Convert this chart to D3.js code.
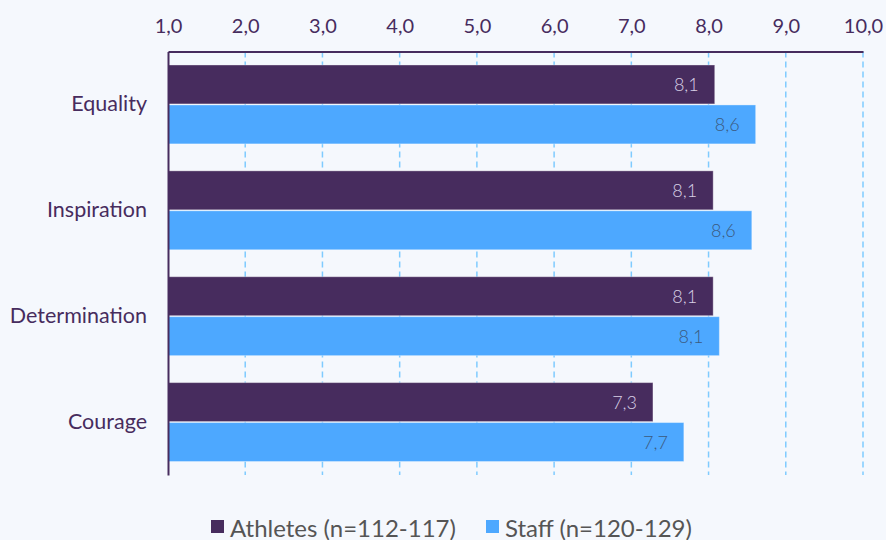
<!DOCTYPE html>
<html><head><meta charset="utf-8">
<script src="https://cdn.jsdelivr.net/npm/d3@7"></script>
<style>
html,body{margin:0;padding:0;background:#f5f8fd;}
svg{display:block;font-family:Lato,"Open Sans",sans-serif;}
</style></head>
<body><svg id="chart" width="886" height="540"></svg>
<script>
const categories = ["Equality","Inspiration","Determination","Courage"];
const seriesNames = ["Athletes (n=112-117)","Staff (n=120-129)"];
const athletes = [8.08, 8.06, 8.06, 7.28];
const staff = [8.61, 8.56, 8.14, 7.68];
const tickValues = [1,2,3,4,5,6,7,8,9,10];
const valueLabels = {athletes:["8,1","8,1","8,1","7,3"], staff:["8,6","8,6","8,1","7,7"]};

const colors = ["#472c5e","#4da8ff"];
const labelColors = ["#d8d0e6","#3b5a80"];
const svg = d3.select("#chart");
const m = {left:168, right:23, top:51.5, bottom:65};
const W = 886, H = 540;

const x = d3.scaleLinear().domain([1,10]).range([m.left, W - m.right]);
const y = d3.scaleBand().domain(categories).range([m.top, H - m.bottom]).padding(0);
const ys = d3.scaleBand().domain([0,1]).range([0, y.step()]).paddingInner(0.025).paddingOuter(0.3375);

const data = categories.map((c,i)=>({cat:c, vals:[athletes[i], staff[i]], labs:[valueLabels.athletes[i], valueLabels.staff[i]]}));

// gridlines
svg.append("g").selectAll("line").data(tickValues.slice(1)).join("line")
  .attr("x1", d=>x(d)).attr("x2", d=>x(d))
  .attr("y1", m.top).attr("y2", H - m.bottom)
  .attr("stroke", "#7fcbff").attr("stroke-width", 1.5).attr("stroke-dasharray","6,4");

// bars
const g = svg.append("g");
data.forEach(d=>{
  d.vals.forEach((v,j)=>{
    g.append("rect")
      .attr("x", x(1)).attr("y", y(d.cat)+ys(j))
      .attr("width", x(v)-x(1)).attr("height", ys.bandwidth())
      .attr("fill", colors[j])
      .attr("stroke", "#ffffff").attr("stroke-opacity", 0.35).attr("stroke-width", 1);
    g.append("text")
      .attr("x", x(v)-16).attr("y", y(d.cat)+ys(j)+ys.bandwidth()/2)
      .attr("text-anchor","end").attr("dominant-baseline","central")
      .attr("font-size", 18).attr("font-weight", 300)
      .attr("fill", labelColors[j]).text(d.labs[j]);
  });
});

// top axis
const xAxis = d3.axisTop(x).tickValues(tickValues).tickSize(0).tickPadding(19)
  .tickFormat(d=>d3.format(".1f")(d).replace(".",","));
const ax = svg.append("g").attr("transform",`translate(0,${m.top})`).call(xAxis);
ax.select(".domain").attr("stroke","#472c5e").attr("stroke-width",2);
ax.selectAll("text").attr("font-size",20).attr("fill","#472c5e").attr("font-family","Lato");

// left axis
const yAxis = d3.axisLeft(y).tickSize(0).tickPadding(21);
const ay = svg.append("g").attr("transform",`translate(${m.left},0)`).call(yAxis);
ay.select(".domain").attr("stroke","#472c5e").attr("stroke-width",2);
ay.selectAll("text").attr("font-size",21.5).attr("fill","#472c5e").attr("font-family","Lato");

// legend
const legend = svg.append("g").attr("transform","translate(0,526)");
const legX = [211, 486];
seriesNames.forEach((n,j)=>{
  legend.append("rect").attr("x",legX[j]).attr("y",-6).attr("width",13).attr("height",13).attr("fill",colors[j]);
  legend.append("text").attr("x",legX[j]+19).attr("y",1).attr("dominant-baseline","central")
    .attr("font-size",24).attr("fill","#555555").text(n);
});
</script></body></html>
